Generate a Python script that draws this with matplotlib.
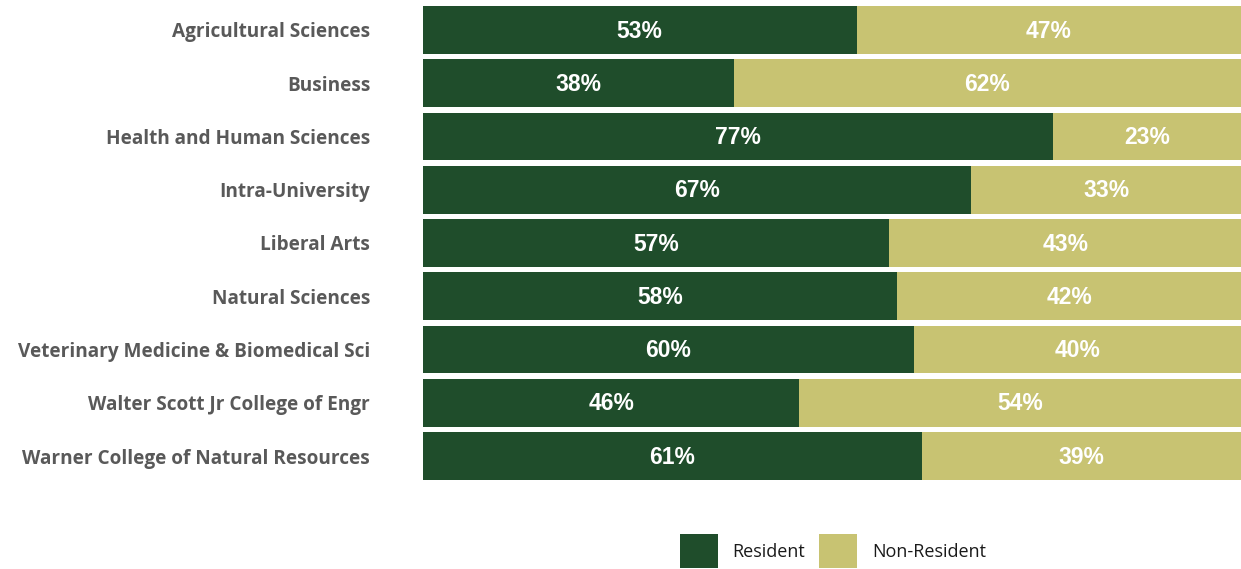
import matplotlib
matplotlib.use("Agg")
import matplotlib.pyplot as plt
from matplotlib.patches import Patch

categories = ["Agricultural Sciences", "Business", "Health and Human Sciences",
              "Intra-University", "Liberal Arts", "Natural Sciences",
              "Veterinary Medicine & Biomedical Sci", "Walter Scott Jr College of Engr",
              "Warner College of Natural Resources"]
resident = [53, 38, 77, 67, 57, 58, 60, 46, 61]
non_resident = [47, 62, 23, 33, 43, 42, 40, 54, 39]
series_names = ["Resident", "Non-Resident"]
colors = ["#1F4D2B", "#C8C372"]

DPI = 100
fig = plt.figure(figsize=(12.41, 5.69), dpi=DPI)
ax = fig.add_axes([423/1241, 1-480/569, 1-423/1241, (480-6)/569])

y = list(range(len(categories)))
h = 0.9
ax.barh(y, resident, height=h, color=colors[0], label=series_names[0])
ax.barh(y, non_resident, left=resident, height=h, color=colors[1], label=series_names[1])

for yi, r, n in zip(y, resident, non_resident):
    ax.text(r/2, yi + 0.02, f"{r}%", ha="center", va="center", color="white",
            fontsize=16.5, fontweight="bold", family="Liberation Sans")
    ax.text(r + n/2, yi + 0.02, f"{n}%", ha="center", va="center", color="white",
            fontsize=16.5, fontweight="bold", family="Liberation Sans")

ax.set_xlim(0, 100)
ax.set_ylim(len(categories)-1+h/2, -h/2)
ax.set_yticks(y)
ax.set_yticklabels(categories, fontsize=13.7, fontweight="bold", color="#595959", family="Open Sans")
ax.tick_params(axis="y", length=0, pad=38)
ax.set_xticks([])
for s in ax.spines.values():
    s.set_visible(False)

handles = [Patch(facecolor=colors[0]), Patch(facecolor=colors[1])]
fig.legend(handles, series_names, loc="center", bbox_to_anchor=(833/1241, 1-551/569),
           ncol=2, frameon=False, handlelength=2.1, handleheight=2.5,
           handletextpad=0.83, columnspacing=0.78, borderpad=0.2,
           labelcolor="#1a1a1a",
           prop={"family": "Open Sans", "size": 13})

fig.savefig("out.png", dpi=DPI)
